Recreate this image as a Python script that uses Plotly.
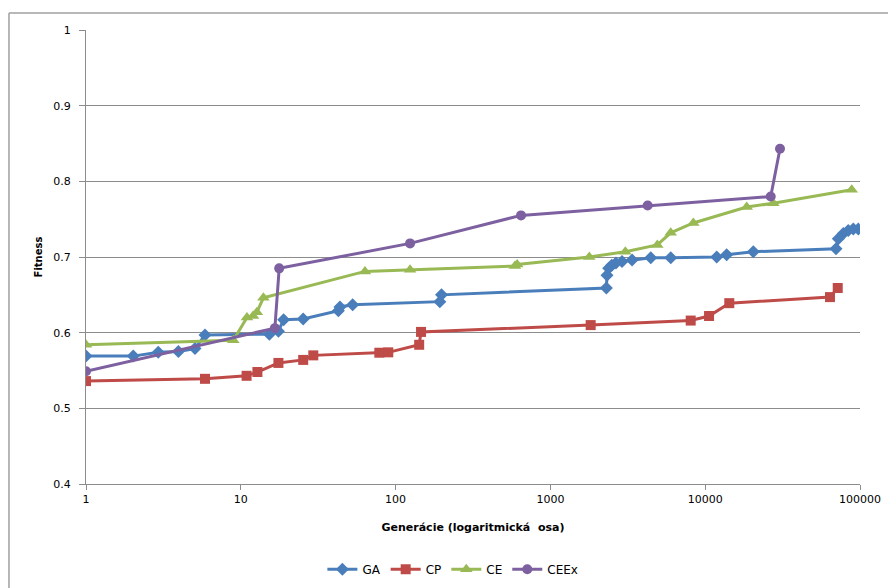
import plotly.graph_objects as go

# Generation (log scale) vs. best fitness for each algorithm variant
ga_gen = [1, 2.02, 2.93, 3.95, 5.06, 5.87, 15.3, 17.5, 18.9, 25.3, 42.7, 43.7, 52.8,
          193, 198, 2300, 2320, 2380, 2490, 2650, 2900, 3370, 4450, 5990, 11870,
          13760, 20450, 69960, 72440, 78000, 84000, 90500, 97500]
ga_fit = [0.569, 0.569, 0.574, 0.575, 0.579, 0.597, 0.598, 0.602, 0.617, 0.618, 0.629, 0.634, 0.637,
          0.641, 0.650, 0.659, 0.676, 0.685, 0.689, 0.692, 0.694, 0.696, 0.699, 0.699, 0.700,
          0.703, 0.707, 0.711, 0.724, 0.731, 0.735, 0.737, 0.737]

cp_gen = [1, 5.87, 10.9, 12.8, 17.5, 25.3, 29.4, 78.5, 89.7, 142, 146, 1820, 8060,
          10590, 14310, 63970, 71800]
cp_fit = [0.536, 0.539, 0.543, 0.548, 0.560, 0.564, 0.570, 0.5735, 0.574, 0.584, 0.601, 0.610, 0.616,
          0.622, 0.639, 0.647, 0.659]

ce_gen = [1, 8.95, 10.96, 12.0, 12.7, 14.0, 63.4, 124, 590, 610, 1784, 3048, 4906,
          5987, 8380, 18540, 27540, 88400]
ce_fit = [0.584, 0.590, 0.620, 0.622, 0.627, 0.646, 0.681, 0.683, 0.688, 0.690, 0.700, 0.707, 0.716,
          0.732, 0.745, 0.766, 0.771, 0.789]

ceex_gen = [1, 16.6, 17.7, 124, 646, 4250, 26500, 30420]
ceex_fit = [0.549, 0.606, 0.685, 0.718, 0.755, 0.768, 0.780, 0.843]

x_tick_vals = [1, 10, 100, 1000, 10000, 100000]
x_tick_text = ["1", "10", "100", "1000", "10000", "100000"]

series = [
    ("GA", ga_gen, ga_fit, "#4A7EBB", "diamond", 10),
    ("CP", cp_gen, cp_fit, "#BE4B48", "square", 10),
    ("CE", ce_gen, ce_fit, "#98B954", "triangle-up", 11),
    ("CEEx", ceex_gen, ceex_fit, "#7D60A0", "circle", 10),
]

fig = go.Figure()
for name, xs, ys, color, symbol, size in series:
    fig.add_trace(go.Scatter(
        x=xs, y=ys, name=name, mode="lines+markers",
        line=dict(color=color, width=3),
        marker=dict(symbol=symbol, size=size, color=color),
    ))

font_family = "Tahoma, DejaVu Sans, sans-serif"
grid_color = "#8C8C8C"

fig.update_layout(
    width=888, height=588,
    margin=dict(l=86, r=28, t=30, b=104, autoexpand=False),
    paper_bgcolor="white", plot_bgcolor="white",
    font=dict(family=font_family, size=11, color="black"),
    showlegend=True,
    legend=dict(
        orientation="h", x=0.474, xanchor="center",
        yref="container", y=0.032, yanchor="middle",
        font=dict(size=12, color="black"), itemwidth=30, tracegroupgap=0,
    ),
    xaxis=dict(
        type="log", range=[0, 5], automargin=False,
        tickvals=x_tick_vals, ticktext=x_tick_text,
        showgrid=False, zeroline=False,
        showline=True, linecolor=grid_color, linewidth=1,
        ticks="outside", ticklen=5, tickcolor=grid_color,
        tickfont=dict(size=11),
        title=dict(text="<b>Generácie (logaritmická  osa)</b>", font=dict(size=11), standoff=18),
    ),
    yaxis=dict(
        range=[0.4, 1.0], dtick=0.1, tick0=0.4, automargin=False,
        showgrid=True, gridcolor=grid_color, gridwidth=1,
        zeroline=False,
        showline=True, linecolor=grid_color, linewidth=1,
        ticks="outside", ticklen=6, tickcolor=grid_color,
        tickfont=dict(size=11),
        ticklabelstandoff=6,
        title=dict(text="<b>Fitness</b>", font=dict(size=10), standoff=8),
    ),
    shapes=[
        dict(type="line", xref="paper", yref="paper", x0=-0.0995, x1=1.2, y0=1.0374, y1=1.0374,
             line=dict(color="#A0A0A0", width=1.5)),
        dict(type="line", xref="paper", yref="paper", x0=-0.0995, x1=-0.0995, y0=-0.5, y1=1.0374,
             line=dict(color="#A0A0A0", width=1.5)),
    ],
)

fig.write_html("out.html")
